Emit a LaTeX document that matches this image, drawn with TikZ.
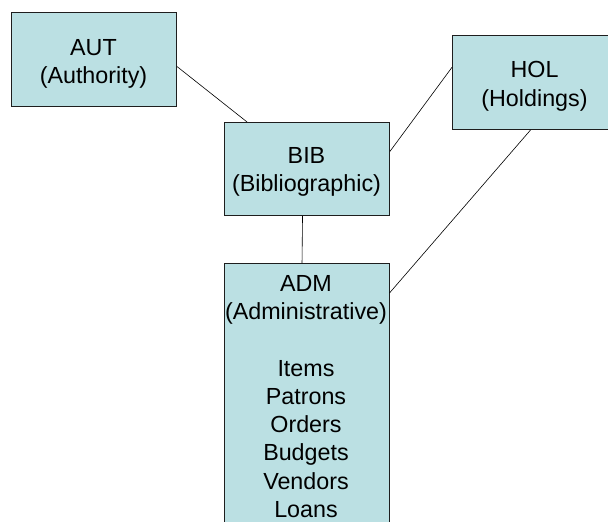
\documentclass[tikz,border=0pt]{standalone}
\usepackage{fontspec}
\setmainfont{Liberation Sans}
\usetikzlibrary{calc}
\definecolor{boxfill}{RGB}{187,224,227}
\definecolor{boxline}{RGB}{30,30,30}
\tikzset{
  recbox/.style={draw=boxline, line width=1pt, fill=boxfill, rectangle, inner sep=0pt, minimum width=165pt, anchor=north west},
  lbl/.style={align=center, inner sep=0pt, anchor=north, text=black, font={\fontsize{23.3}{28.2}\selectfont}},
  link/.style={draw=black, line width=0.6pt}
}
\begin{document}
\begin{tikzpicture}[x=1pt,y=-1pt]
\useasboundingbox (0,0) rectangle (608,522);
\clip (0,0) rectangle (608,522);
\fill[white] (0,0) rectangle (608,522);
% boxes
\node[recbox, minimum height=94pt] (aut) at (11,12) {};
\node[recbox, minimum height=94pt] (hol) at (452,35) {};
\node[recbox, minimum height=93pt] (bib) at (224,122) {};
\node[recbox, minimum height=290pt] (adm) at (223.5,263) {};
% labels
\node[lbl] (autT) at (93.5,39.5) {AUT\\(Authority)};
\node[lbl] (holT) at (534.5,61.5) {HOL\\(Holdings)};
\node[lbl] (bibT) at (306.5,147.3) {BIB\\(Bibliographic)};
\node[lbl] (admT) at (306,275.4) {ADM\\(Administrative)\\ ~\\Items\\Patrons\\Orders\\Budgets\\Vendors\\Loans};
% connectors
\coordinate (a1) at ($(aut.north east)!0.574!(aut.south east)$);
\coordinate (b1) at ($(bib.north west)!0.139!(bib.north east)$);
\coordinate (b2) at ($(bib.north east)!0.312!(bib.south east)$);
\coordinate (h1) at ($(hol.north west)!0.34!(hol.south west)$);
\coordinate (b3) at ($(bib.south west)!0.473!(bib.south east)$);
\coordinate (d1) at ($(adm.north west)!0.473!(adm.north east)$);
\coordinate (h2) at ($(hol.south west)!0.473!(hol.south east)$);
\coordinate (d2) at ([yshift=-30pt]adm.north east);
\draw[link] (a1) -- (b1);
\draw[link] (b2) -- (h1);
\draw[link] (b3) -- (d1);
\draw[link] (h2) -- (d2);
\end{tikzpicture}
\end{document}
